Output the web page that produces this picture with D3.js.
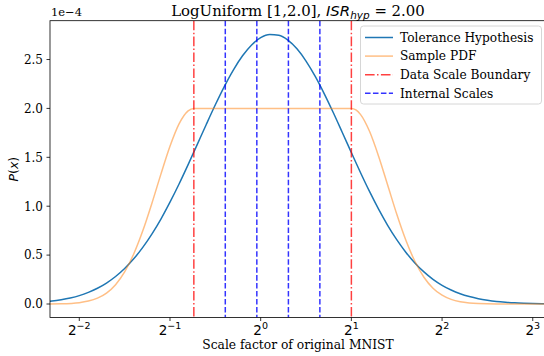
<!DOCTYPE html>
<html><head><meta charset="utf-8">
<script src="https://cdn.jsdelivr.net/npm/d3@7"></script>
<style>body{margin:0;background:#fff}svg{display:block}</style>
</head><body>
<script>
// ---- data (x given as log2 of scale factor) ----
const tolLog2 = [-2.4,-2.3,-2.2,-2.1,-2.0,-1.9,-1.8,-1.7,-1.6,-1.5,-1.4,-1.3,-1.2,-1.1,-1.0,-0.9,-0.8,-0.7,-0.6,-0.5,-0.4,-0.3,-0.2,-0.1,0.0,0.1,0.2,0.3,0.4,0.5,0.6,0.7,0.8,0.9,1.0,1.1,1.2,1.3,1.4,1.5,1.6,1.7,1.8,1.9,2.0,2.1,2.2,2.3,2.4,2.5,2.6,2.7,2.8,2.9,3.0,3.1,3.2];
const tolVals = [0.021,0.030,0.044,0.062,0.086,0.119,0.161,0.214,0.281,0.363,0.462,0.579,0.715,0.869,1.041,1.227,1.425,1.630,1.836,2.037,2.226,2.395,2.538,2.649,2.723,2.756,2.748,2.698,2.609,2.484,2.330,2.152,1.958,1.754,1.548,1.345,1.151,0.970,0.805,0.658,0.530,0.420,0.328,0.252,0.191,0.143,0.105,0.076,0.054,0.038,0.026,0.018,0.012,0.008,0.005,0.003,0.002];
const pdfLog2 = [-2.4,-2.2,-2.0,-1.9,-1.8,-1.7,-1.6,-1.5,-1.4,-1.3,-1.2,-1.1,-1.0,-0.9,-0.8,-0.737,1.0,1.05,1.1,1.2,1.3,1.4,1.5,1.6,1.7,1.8,1.9,2.0,2.1,2.2,2.3,2.4,2.6,2.8,3.2];
const pdfVals = [0.0004,0.003,0.014,0.030,0.060,0.112,0.198,0.328,0.511,0.748,1.028,1.328,1.613,1.842,1.975,2.0,2.0,1.985,1.939,1.766,1.512,1.217,0.920,0.654,0.437,0.274,0.162,0.090,0.047,0.023,0.011,0.005,0.0007,0.0001,0.0];
const boundaryScales = [0.6, 2.0];
const internalScales = [0.763, 0.971, 1.236, 1.572];
const xTickExps = [-2,-1,0,1,2,3];
const yTicks = [0.0,0.5,1.0,1.5,2.0,2.5];
const legendLabels = ["Tolerance Hypothesis","Sample PDF","Data Scale Boundary","Internal Scales"];

const W=544,H=356;
const L=50,R=546,T=20.7,B=317.5;
const svg=d3.select("body").append("svg").attr("width",W).attr("height",H);
const x=d3.scaleLog().base(2).domain([Math.pow(2,-2.323),Math.pow(2,3.146)]).range([L,R]);
const y=d3.scaleLinear().domain([-0.138,2.897]).range([B,T]);
const serif="DejaVu Serif", sans="DejaVu Sans";

svg.append("defs").append("clipPath").attr("id","clip").append("rect").attr("x",L).attr("y",T).attr("width",R-L).attr("height",B-T);
const g=svg.append("g").attr("clip-path","url(#clip)");

const line=d3.line().curve(d3.curveMonotoneX);
const tolPts=tolLog2.map((t,i)=>[x(Math.pow(2,t)),y(tolVals[i])]);
const pdfPts=pdfLog2.map((t,i)=>[x(Math.pow(2,t)),y(pdfVals[i])]);

g.append("path").attr("d",line(tolPts)).attr("fill","none").attr("stroke","#1f77b4").attr("stroke-width",1.5);
g.append("path").attr("d",line(pdfPts)).attr("fill","none").attr("stroke","#ff7f0e").attr("stroke-opacity",0.5).attr("stroke-width",1.5);

boundaryScales.forEach(s=>{
  g.append("line").attr("x1",x(s)).attr("x2",x(s)).attr("y1",T).attr("y2",B)
   .attr("stroke","#ff0000").attr("stroke-opacity",0.75).attr("stroke-width",1.5).attr("stroke-dasharray","9.6,2.4,1.5,2.4");
});
internalScales.forEach(s=>{
  g.append("line").attr("x1",x(s)).attr("x2",x(s)).attr("y1",T).attr("y2",B)
   .attr("stroke","#0000ff").attr("stroke-opacity",0.8).attr("stroke-width",1.5).attr("stroke-dasharray","5.55,2.4");
});

// spines
svg.append("rect").attr("x",L).attr("y",T).attr("width",R-L).attr("height",B-T).attr("fill","none").attr("stroke","#000").attr("stroke-width",0.8);

// x ticks
xTickExps.forEach(e=>{
  const px=x(Math.pow(2,e));
  svg.append("line").attr("x1",px).attr("x2",px).attr("y1",B).attr("y2",B+3.5).attr("stroke","#000").attr("stroke-width",0.8);
  const t=svg.append("text").attr("x",px).attr("y",B+17).attr("text-anchor","middle").attr("font-family",sans).attr("font-size",13.5);
  t.append("tspan").text("2");
  t.append("tspan").attr("dy",-5.5).attr("font-size",9.5).text(e<0?"\u2212"+(-e):String(e));
});
// y ticks
yTicks.forEach(v=>{
  const py=y(v);
  svg.append("line").attr("x1",L-3.5).attr("x2",L).attr("y1",py).attr("y2",py).attr("stroke","#000").attr("stroke-width",0.8);
  svg.append("text").attr("x",L-7).attr("y",py+4.3).attr("text-anchor","end").attr("font-family",serif).attr("font-size",12).text(v.toFixed(1));
});
svg.append("text").attr("x",L+1).attr("y",T-5).attr("font-family",serif).attr("font-size",11.5).text("1e\u22124");

// labels
svg.append("text").attr("x",(L+R)/2).attr("y",349).attr("text-anchor","middle").attr("font-family",serif).attr("font-size",12.3).text("Scale factor of original MNIST");
const yl=svg.append("text").attr("transform",`translate(18,${(T+B)/2}) rotate(-90)`).attr("text-anchor","middle").attr("font-family",sans).attr("font-size",12.5);
yl.append("tspan").attr("font-style","italic").text("P");
yl.append("tspan").text("(");
yl.append("tspan").attr("font-style","italic").text("x");
yl.append("tspan").text(")");

// title
const tt=svg.append("text").attr("x",(L+R)/2).attr("y",16).attr("text-anchor","middle").attr("font-family",serif).attr("font-size",14.9);
tt.append("tspan").text("LogUniform [1,2.0], ");
tt.append("tspan").attr("font-family",sans).attr("font-style","italic").text("ISR");
tt.append("tspan").attr("font-family",sans).attr("font-style","italic").attr("font-size",10.5).attr("dy",3).text("hyp");
tt.append("tspan").attr("dy",-3).text(" = 2.00");

// legend
const lg=svg.append("g");
lg.append("rect").attr("x",360.5).attr("y",26).attr("width",181).attr("height",78).attr("rx",3).attr("fill","#fff").attr("fill-opacity",0.8).attr("stroke","#ccc").attr("stroke-width",0.8);
const styles=[
  {c:"#1f77b4",o:1,d:null},
  {c:"#ff7f0e",o:0.5,d:null},
  {c:"#ff0000",o:0.75,d:"9.6,2.4,1.5,2.4"},
  {c:"#0000ff",o:0.8,d:"5.55,2.4"}
];
legendLabels.forEach((lab,i)=>{
  const yy=37.5+i*18.6;
  const ln=lg.append("line").attr("x1",365).attr("x2",393).attr("y1",yy).attr("y2",yy).attr("stroke",styles[i].c).attr("stroke-opacity",styles[i].o).attr("stroke-width",1.5);
  if(styles[i].d) ln.attr("stroke-dasharray",styles[i].d);
  lg.append("text").attr("x",400).attr("y",yy+4.3).attr("font-family",serif).attr("font-size",12.2).text(lab);
});
</script>
</body></html>
